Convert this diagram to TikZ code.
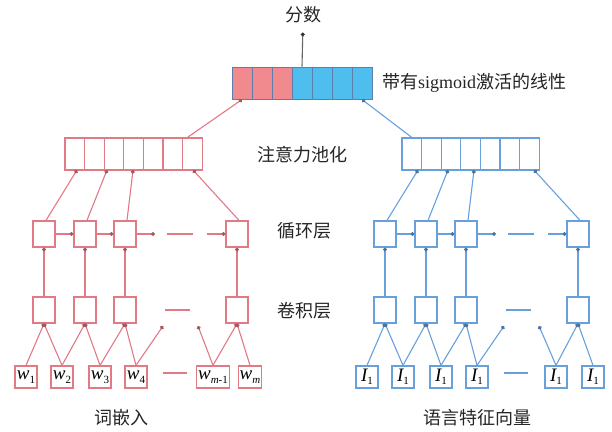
\documentclass[tikz,border=0pt]{standalone}
\usepackage{fontspec}
\setmainfont{Liberation Serif}
\newfontfamily\cjk{Noto Sans CJK SC}
\usetikzlibrary{arrows.meta}
\definecolor{lred}{RGB}{226,122,134}
\definecolor{lblue}{RGB}{104,160,222}
\definecolor{fred}{RGB}{240,138,142}
\definecolor{fblue}{RGB}{78,190,238}
\definecolor{sborder}{RGB}{95,125,170}
\tikzset{
 unitbox/.style={draw, line width=1.3pt, minimum width=22pt, minimum height=26pt, inner sep=0pt, fill=white},
 inbox/.style={unitbox, minimum height=22pt, inner xsep=1.5pt, text=black, font=\fontsize{19}{19}\selectfont},
 poolcell/.style={draw, line width=1.1pt, minimum width=19.6pt, minimum height=32pt, inner sep=0pt},
 scell/.style={draw=sborder, line width=1pt, minimum width=20pt, minimum height=32pt, inner sep=0pt},
 conn/.style={line width=1.1pt, -{Circle[length=3.8pt]}},
 dashseg/.style={line width=1.4pt},
 lbl/.style={font=\fontsize{18}{20}\selectfont, inner sep=0pt, text=black!85},
 sub/.style={},
}
\newcommand\sbs[1]{\raisebox{-3.5pt}{\fontsize{11}{11}\selectfont #1}}
\newcommand\drawside[5]{%
\begin{scope}[xshift=#3, color=#2,
   conn/.style={line width=1.1pt, -{Circle[length=3.8pt, color=#2!72!black]}}]
 \foreach \xx/\lab [count=\i] in {#5}
   \node[inbox, draw=#2] (#1in\i) at (\xx,377) {\lab};
 \foreach \xx [count=\i] in {44,85,125,237} {
   \node[unitbox, draw=#2] (#1cv\i) at (\xx,310) {};
   \node[unitbox, draw=#2] (#1rc\i) at (\xx,234) {};
 }
 \foreach \i in {1,...,7}
   \node[poolcell, draw=#2] (#1pl\i) at ({#4+19.6*\i-9.8},154) {};
 \coordinate (#1da) at (163,326);
 \coordinate (#1db) at (198,326);
 \coordinate (#1ra) at (155,234);
 \coordinate (#1rb) at (207,234);
 \coordinate (#1ia) at (163,373); \coordinate (#1ib) at (187,373);
 \coordinate (#1ca) at (165,310); \coordinate (#1cb) at (190,310);
 \coordinate (#1ha) at (167,234); \coordinate (#1hb) at (193,234);
 \coordinate (#1e1) at (77,170);
 \coordinate (#1e2) at (107,170);
 \coordinate (#1e3) at (133,170);
 \coordinate (#1e4) at (193,170);
 \foreach \a/\b in {1/1,2/1,2/2,3/2,3/3,4/3,5/4,6/4}
   \draw[conn] (#1in\a.north) -- (#1cv\b.south);
 \draw[conn] (#1in4.north) -- (#1da);
 \draw[conn] (#1in5.north) -- (#1db);
 \foreach \i in {1,...,4} {
   \draw[conn] (#1cv\i.north) -- (#1rc\i.south);
   \draw[conn] ([xshift=2pt]#1rc\i.north) -- (#1e\i);
 }
 \draw[conn] (#1rc1.east) -- (#1rc2.west);
 \draw[conn] (#1rc2.east) -- (#1rc3.west);
 \draw[conn] (#1rc3.east) -- (#1ra);
 \draw[conn] (#1rb) -- (#1rc4.west);
 \draw[dashseg] (#1ia) -- (#1ib);
 \draw[dashseg] (#1ca) -- (#1cb);
 \draw[dashseg] (#1ha) -- (#1hb);
\end{scope}}
\begin{document}
\begin{tikzpicture}[x=1pt, y=-1pt]
\useasboundingbox[fill=white] (0,0) rectangle (612,431);
\drawside{L}{lred}{0pt}{65}{26/{{\itshape w}\sbs{1}},62/{{\itshape w}\sbs{2}},100/{{\itshape w}\sbs{3}},136/{{\itshape w}\sbs{4}},213/{{\itshape w}\sbs{\itshape m\upshape -1}},250/{{\itshape w}\sbs{\itshape m}}}
\drawside{R}{lblue}{341pt}{61}{26/{{\itshape I}\sbs{1}},62/{{\itshape I}\sbs{1}},100/{{\itshape I}\sbs{1}},136/{{\itshape I}\sbs{1}},215/{{\itshape I}\sbs{1}},252/{{\itshape I}\sbs{1}}}
% score layer
\foreach \i in {1,2,3}
  \node[scell, fill=fred] (s\i) at (232+20*\i-10,83) {};
\foreach \i in {4,...,7}
  \node[scell, fill=fblue] (s\i) at (232+20*\i-10,83) {};
\draw[line width=1.1pt, lred, -{Circle[length=3.8pt, color=lred!72!black]}] ([xshift=-5pt]Lpl7.north) -- (s1.south);
\draw[line width=1.1pt, lblue, -{Circle[length=3.8pt, color=lblue!72!black]}] (Rpl1.north) -- (s7.south);
% labels
\node[lbl] (fs) at (303,15) {\cjk 分数};
\draw[line width=1.1pt, black!60, -{Circle[length=3.8pt, color=black!80]}, shorten >=9pt] (s4.north) -- (fs.south);
\node[lbl, anchor=west] (act) at (382,83) {{\cjk 带有}sigmoid{\cjk 激活的线性}};
\node[lbl] (attn) at (302,155) {\cjk 注意力池化};
\node[lbl] (rnn) at (304,231) {\cjk 循环层};
\node[lbl] (cnn) at (304,311) {\cjk 卷积层};
\node[lbl] (we) at (121,418) {\cjk 词嵌入};
\node[lbl] (lf) at (477,418) {\cjk 语言特征向量};
\end{tikzpicture}
\end{document}
